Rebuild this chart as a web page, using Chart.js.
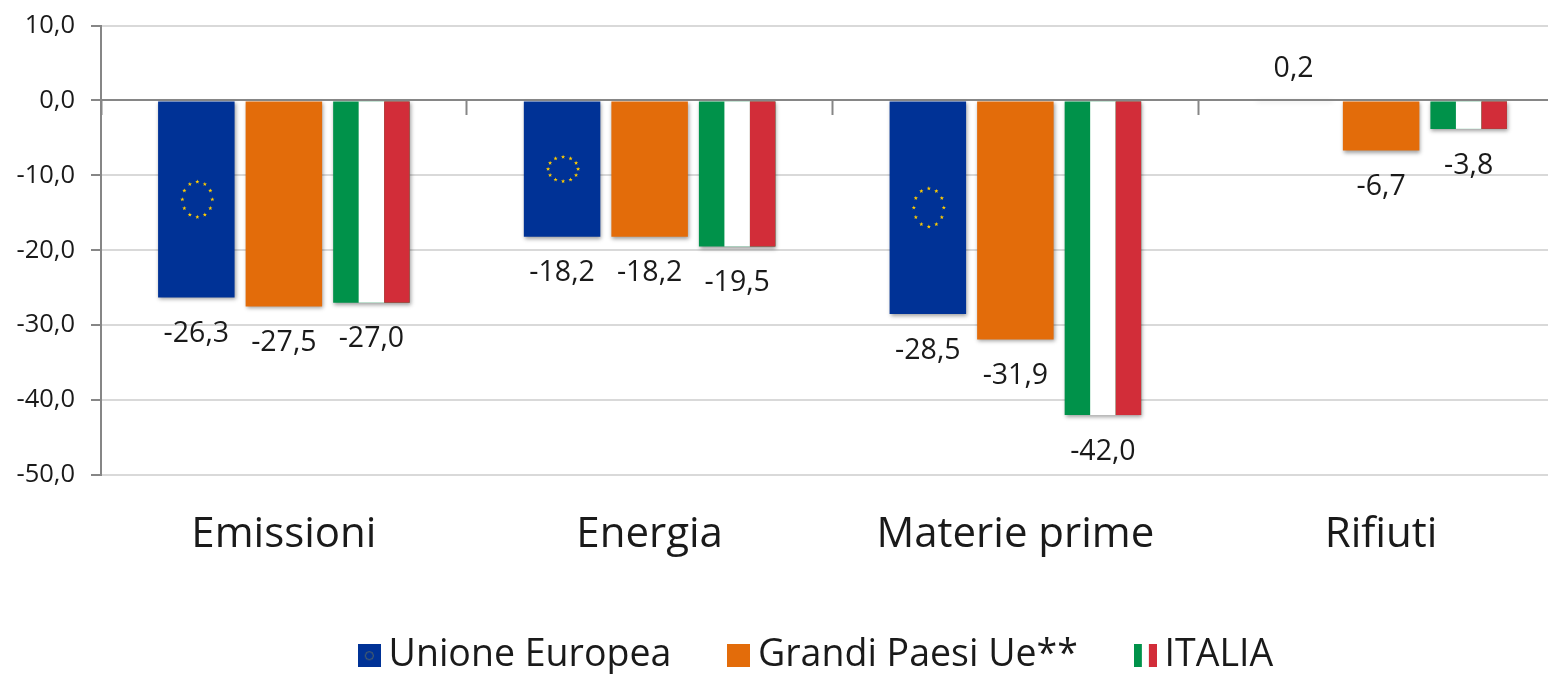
<!DOCTYPE html>
<html lang="it">
<head>
<meta charset="utf-8">
<script src="https://cdn.jsdelivr.net/npm/chart.js@4"></script>
<style>
html,body{margin:0;padding:0;background:#fff;overflow:hidden;width:1548px;height:674px}
canvas{display:block}
</style>
</head>
<body>
<canvas id="c" width="1564" height="674"></canvas>
<script>
const categories = ['Emissioni', 'Energia', 'Materie prime', 'Rifiuti'];
const unioneEuropea = [-26.3, -18.2, -28.5, 0.2];
const grandiPaesi = [-27.5, -18.2, -31.9, -6.7];
const italia = [-27.0, -19.5, -42.0, -3.8];
const seriesNames = ['Unione Europea', 'Grandi Paesi Ue**', 'ITALIA'];
const yTicks = [10, 0, -10, -20, -30, -40, -50];

const BLUE = '#003296', ORANGE = '#E36C0A', GREEN = '#00924A', RED = '#D22D39', STAR = '#FFCC00';
const GRID = '#D9D9D9', AXIS = '#868686', TEXT = '#1a1a1a';
const FONT = '"Open Sans"';
const fmt = v => v.toFixed(1).replace('.', ',');

function star(ctx, x, y, r) {
  ctx.beginPath();
  for (let i = 0; i < 10; i++) {
    const a = -Math.PI / 2 + i * Math.PI / 5, q = i % 2 ? r * 0.42 : r;
    ctx.lineTo(x + q * Math.cos(a), y + q * Math.sin(a));
  }
  ctx.closePath();
  ctx.fill();
}
function swatch(kind) {
  const s = document.createElement('canvas');
  s.width = 23; s.height = 23;
  const g = s.getContext('2d');
  if (kind === 0) {
    g.fillStyle = BLUE; g.fillRect(0, 0, 23, 23);
    g.strokeStyle = 'rgba(255,204,0,.35)'; g.beginPath(); g.arc(11.5, 11.5, 4, 0, 7); g.stroke();
  } else if (kind === 1) {
    g.fillStyle = ORANGE; g.fillRect(0, 0, 23, 23);
  } else {
    g.fillStyle = GREEN; g.fillRect(0, 0, 8, 23);
    g.fillStyle = RED; g.fillRect(15, 0, 8, 23);
  }
  return s;
}
const swatches = [swatch(0), swatch(1), swatch(2)];

const decor = {
  id: 'decor',
  beforeDatasetsDraw(chart) {
    const c = chart.ctx;
    c.save();
    c.shadowColor = 'rgba(0,0,0,.38)';
    c.shadowBlur = 4;
    c.shadowOffsetX = 1;
    c.shadowOffsetY = 2;
  },
  afterDatasetsDraw(chart) {
    const c = chart.ctx;
    c.restore();
    c.save();
    chart.data.datasets.forEach((ds, di) => {
      chart.getDatasetMeta(di).data.forEach((bar, i) => {
        const v = ds.data[i];
        const top = Math.min(bar.y, bar.base), h = Math.abs(bar.y - bar.base);
        if (di === 0 && v < 0) {
          c.fillStyle = STAR;
          const cy = top + h / 2;
          for (let k = 0; k < 12; k++) {
            const a = k * Math.PI / 6;
            star(c, bar.x + 1 + 15 * Math.sin(a), cy - 0.09 * h * Math.cos(a), 2.2);
          }
        }
        if (di === 2) {
          const w = bar.width / 3, l = bar.x - bar.width / 2;
          c.fillStyle = '#fff';
          c.fillRect(l + w, top, w, h);
          c.fillStyle = RED;
          c.fillRect(l + 2 * w, top, w, h);
        }
        c.fillStyle = TEXT;
        c.font = '28.5px ' + FONT;
        c.textAlign = 'center';
        c.textBaseline = 'middle';
        c.fillText(fmt(v), bar.x, v < 0 ? bar.y + 36.5 : bar.y - 30.5);
      });
    });
    c.restore();
  },
  afterLayout(chart) {
    const l = chart.legend;
    l.left += 39; l.right += 39;
    l.top = 570;
  }
};

new Chart(document.getElementById('c'), {
  type: 'bar',
  data: {
    labels: categories,
    datasets: [
      { label: seriesNames[0], data: unioneEuropea, backgroundColor: ctx => ctx.raw > 0 ? '#fff' : BLUE },
      { label: seriesNames[1], data: grandiPaesi, backgroundColor: ORANGE },
      { label: seriesNames[2], data: italia, backgroundColor: GREEN }
    ]
  },
  options: {
    responsive: false,
    animation: false,
    devicePixelRatio: 1,
    layout: { padding: { top: 25.5, left: 0, right: 0, bottom: 0 } },
    datasets: { bar: { categoryPercentage: 0.718, barPercentage: 0.874 } },
    scales: {
      x: {
        position: 'bottom',
        grid: { display: false },
        border: { display: false },
        ticks: { color: TEXT, font: { family: FONT, size: 42 }, padding: 27, maxRotation: 0 },
        afterFit(s) { s.height = 199 - s.chart.legend.height; }
      },
      x2: {
        type: 'category',
        labels: categories,
        position: { y: 0 },
        grid: { offset: true, drawOnChartArea: false, drawTicks: true, tickLength: 14, tickColor: AXIS, tickWidth: 2, z: 2 },
        border: { display: true, color: AXIS, width: 2, z: 2 },
        ticks: { display: false }
      },
      y: {
        min: -50, max: 10,
        afterBuildTicks(s) { s.ticks = yTicks.map(value => ({ value })); },
        grid: { color: GRID, lineWidth: 2, tickLength: 10, tickColor: AXIS, tickWidth: 2 },
        border: { display: true, color: AXIS, width: 2 },
        ticks: { color: TEXT, font: { family: FONT, size: 25.5 }, padding: 16, callback: v => fmt(v) },
        afterFit(s) { s.width = 101; s.paddingTop = 0; s.paddingBottom = 0; }
      }
    },
    plugins: {
      tooltip: { enabled: false },
      legend: {
        position: 'bottom',
        labels: {
          usePointStyle: true,
          pointStyleWidth: 1,
          boxHeight: 23,
          padding: 67,
          color: TEXT,
          font: { family: FONT, size: 37.5 },
          generateLabels: chart => chart.data.datasets.map((d, i) => ({
            text: d.label, pointStyle: swatches[i], datasetIndex: i,
            fontColor: TEXT, lineWidth: 0, strokeStyle: 'transparent', fillStyle: 'transparent', hidden: false
          }))
        }
      }
    }
  },
  plugins: [decor]
});
</script>
</body>
</html>
